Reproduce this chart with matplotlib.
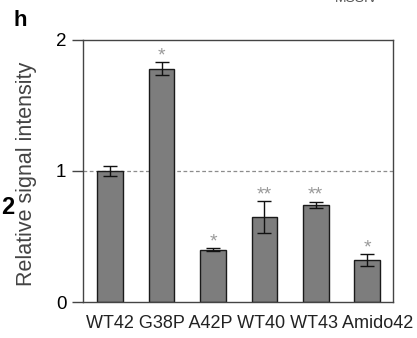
import matplotlib
matplotlib.use("Agg")
import matplotlib.pyplot as plt

categories = ["WT42", "G38P", "A42P", "WT40", "WT43", "Amido42"]
values = [1.00, 1.78, 0.40, 0.65, 0.74, 0.32]
errors = [0.04, 0.05, 0.012, 0.12, 0.025, 0.045]
stars = ["", "*", "*", "**", "**", "*"]

plt.rcParams["font.family"] = ["Liberation Sans", "DejaVu Sans"]

fig = plt.figure(figsize=(4.17, 3.38), dpi=100)
ax = fig.add_axes([0.199, 0.1065, 0.743, 0.7755])

x = list(range(len(categories)))
ax.bar(x, values, width=0.5, color="#7d7d7d", edgecolor="#1a1a1a",
       linewidth=1.0, zorder=2)
ax.errorbar(x, values, yerr=errors, fmt="none", ecolor="#111111",
            elinewidth=1.0, capsize=4.7, capthick=1.0, zorder=3)

for xi, v, e, s in zip(x, values, errors, stars):
    if s:
        ax.text(xi, v + e + 0.015, s, ha="center", va="baseline",
                fontsize=14, color="#9a9a9a")

ax.axhline(1.0, color="#8c8c8c", linestyle=(0, (3, 2)), linewidth=0.9,
           zorder=1)

ax.set_xlim(-0.53, 5.5)
ax.set_ylim(0, 2)
ax.set_yticks([0, 1, 2])
ax.set_yticklabels(["0", "1", "2"], fontsize=13.5)
ax.set_xticks([])
ax.tick_params(axis="y", length=8, width=1, direction="out", pad=4,
               color="#444444")
for sp in ax.spines.values():
    sp.set_color("#444444")
    sp.set_linewidth(1.0)

# category names run as one line under the bars
fig.text(250 / 417, 1 - 323 / 338, " ".join(categories), fontsize=13,
         ha="center", va="center", color="#222222")

ax.set_ylabel("Relative signal intensity", fontsize=15.5, color="#444444")
ax.yaxis.set_label_coords(-0.15, 0.49)

fig.text(20 / 417, 1 - 20 / 338, "h", fontsize=16, fontweight="bold",
         ha="center", va="center")
fig.text(8 / 417, 1 - 207 / 338, "2", fontsize=17, fontweight="bold",
         ha="center", va="center")
fig.text(356 / 417, 1 + 2 / 338, "MSSIV", fontsize=10, color="#555555",
         ha="center", va="center")

fig.savefig("out.png", dpi=100)
